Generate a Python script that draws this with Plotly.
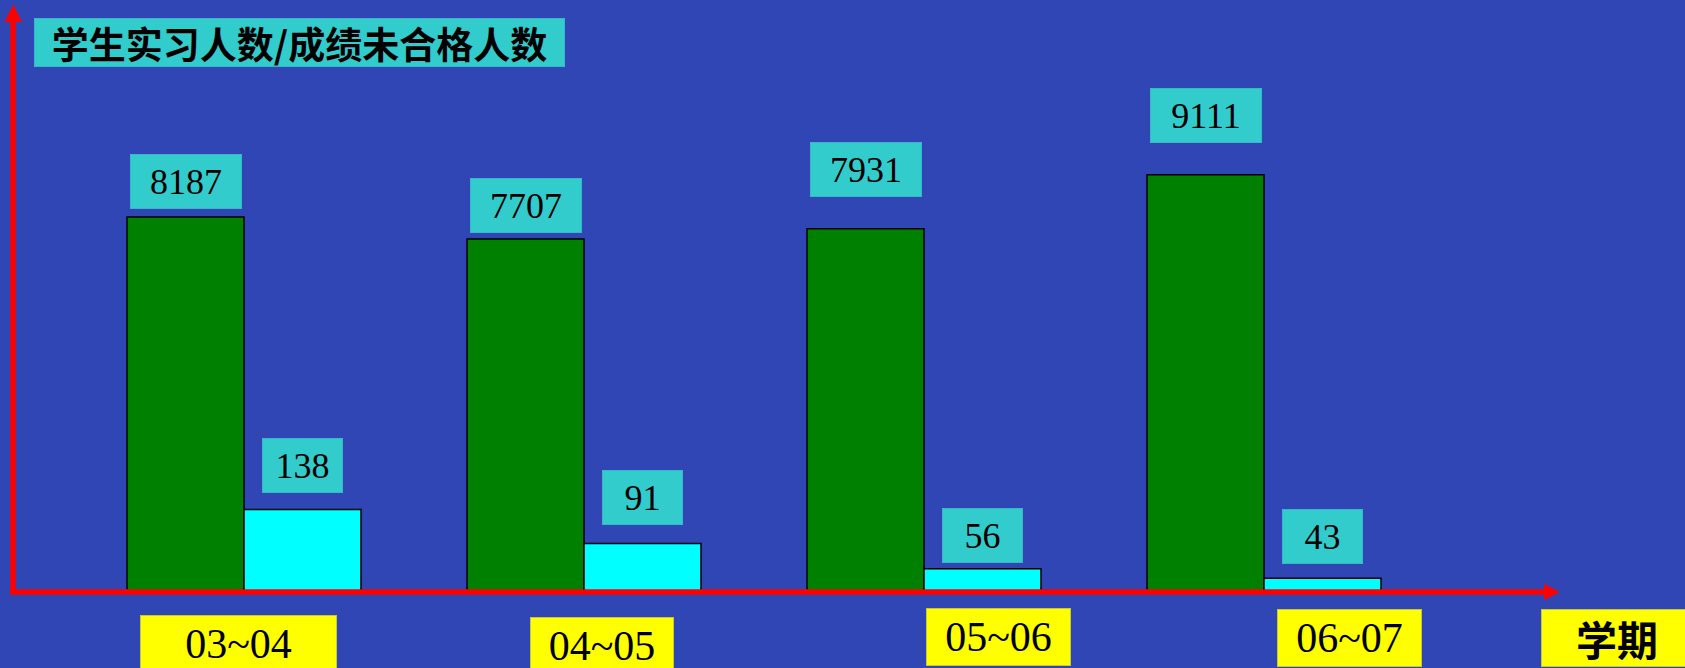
import plotly.graph_objects as go

# ---- data ----
terms = ["03~04", "04~05", "05~06", "06~07"]
interns = [8187, 7707, 7931, 9111]        # 学生实习人数
failed = [138, 91, 56, 43]                # 成绩未合格人数
title_text = "学生实习人数/成绩未合格人数"
x_title = "学期"

# ---- layout constants ----
W, H = 1685, 668
ML, MR, MT, MB = 13, 127, 4, 76
PW, PH = W - ML - MR, H - MT - MB
BG = "#2F46B4"
GREEN = "#008000"
CYAN = "#00FFFF"
TEAL = "#33CCCC"
YELLOW = "#FFFF00"
RED = "#FF0000"
BW = 0.344  # bar width (category units)

fig = go.Figure()
fig.add_trace(go.Bar(
    x=terms, y=interns, width=BW, offset=-BW,
    marker=dict(color=GREEN, line=dict(color="black", width=1.5)),
    yaxis="y", hoverinfo="x+y", name="学生实习人数",
))
fig.add_trace(go.Bar(
    x=terms, y=failed, width=BW, offset=0,
    marker=dict(color=CYAN, line=dict(color="black", width=1.5)),
    yaxis="y2", hoverinfo="x+y", name="成绩未合格人数",
))

annotations = []
green_gap = [8, 6, 32, 32]
cyan_gap = [17, 18, 6, 14]
for i, (g, c) in enumerate(zip(interns, failed)):
    annotations.append(dict(
        x=i - BW / 2, y=g, xref="x", yref="y", text=str(g), showarrow=False,
        yanchor="bottom", yshift=green_gap[i],
        font=dict(family="Liberation Serif", size=36, color="black"),
        bgcolor=TEAL, width=110, height=53, borderpad=0,
        bordercolor="#36B8C8", borderwidth=1,
    ))
    annotations.append(dict(
        x=i + BW / 2, y=c, xref="x", yref="y2", text=str(c), showarrow=False,
        yanchor="bottom", yshift=cyan_gap[i],
        font=dict(family="Liberation Serif", size=36, color="black"),
        bgcolor=TEAL, width=79, height=53, borderpad=0,
        bordercolor="#36B8C8", borderwidth=1,
    ))

# bottom category labels in yellow boxes
lab_shift = [-6, 18, 74, 85]
lab_w = [195, 142, 143, 143]
lab_top = [23, 25, 16, 17]
for i, t in enumerate(terms):
    annotations.append(dict(
        x=i, y=0, xref="x", yref="paper", text=t, showarrow=False,
        xshift=lab_shift[i], yanchor="top", yshift=-lab_top[i],
        font=dict(family="Liberation Serif", size=42, color="black"),
        bgcolor=YELLOW, width=lab_w[i], height=56, borderpad=0,
        bordercolor="#C8C832", borderwidth=1,
    ))
annotations.append(dict(
    x=(1541 - ML) / PW, y=0, xref="paper", yref="paper", text="<b>" + x_title + "</b>",
    showarrow=False, xanchor="left", yanchor="top", yshift=-17,
    font=dict(family="Noto Sans CJK SC", size=41, color="black"),
    bgcolor=YELLOW, width=150, height=56, borderpad=0,
    bordercolor="#C8C832", borderwidth=1,
))
# title box
annotations.append(dict(
    x=(34 - ML) / PW, y=(H - MB - 18) / PH, xref="paper", yref="paper",
    text="<b>" + title_text + "</b>", showarrow=False,
    xanchor="left", yanchor="top",
    font=dict(family="Noto Sans CJK SC", size=37, color="black"),
    bgcolor=TEAL, width=529, height=47, borderpad=0,
    bordercolor="#36B8C8", borderwidth=1,
))

# axes with arrows (red)
def px(xpix):
    return (xpix - ML) / PW

def py(ypix):
    return (H - MB - ypix) / PH

shapes = [
    dict(type="line", xref="paper", yref="paper", x0=px(10), x1=px(1546), y0=py(592), y1=py(592),
         line=dict(color=RED, width=5.5)),
    dict(type="line", xref="paper", yref="paper", x0=px(13), x1=px(13), y0=py(594), y1=py(19),
         line=dict(color=RED, width=5.5)),
    dict(type="path", xref="paper", yref="paper",
         path=f"M {px(1544)},{py(584)} L {px(1560)},{py(592)} L {px(1544)},{py(600)} Z",
         fillcolor=RED, line=dict(color=RED, width=0)),
    dict(type="path", xref="paper", yref="paper",
         path=f"M {px(4.5)},{py(22)} L {px(13.3)},{py(4.5)} L {px(22)},{py(22)} Z",
         fillcolor=RED, line=dict(color=RED, width=0)),
]

fig.update_layout(
    width=W, height=H,
    margin=dict(l=ML, r=MR, t=MT, b=MB, pad=0),
    paper_bgcolor=BG, plot_bgcolor=BG,
    showlegend=False, barmode="overlay",
    xaxis=dict(type="category", range=[(ML - 244) / 340, (W - MR - 244) / 340],
               showticklabels=False, showgrid=False, zeroline=False, showline=False, ticks=""),
    yaxis=dict(range=[0, 12840], showticklabels=False, showgrid=False, zeroline=False,
               showline=False, ticks=""),
    yaxis2=dict(range=[23.8, 838.2], overlaying="y", side="right", showticklabels=False,
                showgrid=False, zeroline=False, showline=False, ticks=""),
    annotations=annotations, shapes=shapes,
)

fig.write_html("out.html")
